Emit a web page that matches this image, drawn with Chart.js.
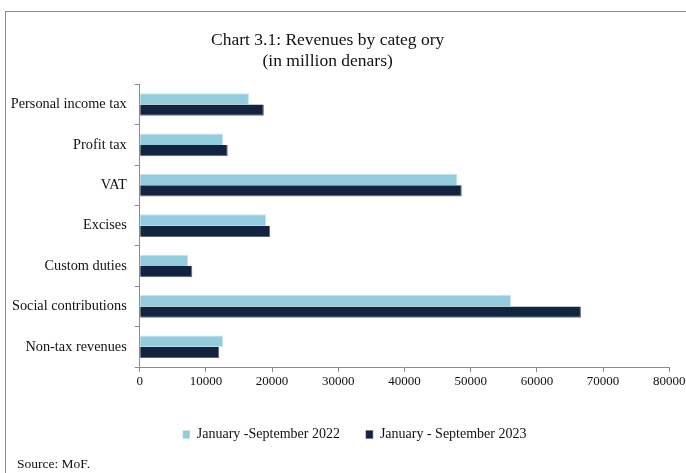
<!DOCTYPE html>
<html>
<head>
<meta charset="utf-8">
<script src="https://cdn.jsdelivr.net/npm/chart.js@4.4.1/dist/chart.umd.min.js"></script>
<style>
html, body { margin: 0; padding: 0; background: #fff; overflow: hidden; }
#wrap { position: relative; width: 686px; height: 473px; }
#frame { position: absolute; left: 5px; top: 11px; width: 700px; height: 480px;
         border-left: 1px solid #8c8c8c; border-top: 1px solid #8c8c8c; }
#source { position: absolute; left: 17px; top: 456px; font: 13.5px "Liberation Serif", serif; color: #111; }
canvas { position: absolute; left: 0; top: 0; }
</style>
</head>
<body>
<div id="wrap">
  <div id="frame"></div>
  <canvas id="chart" width="686" height="473"></canvas>
  <div id="source">Source: MoF.</div>
</div>
<script>
// values, million denars
const categories = ['Personal income tax', 'Profit tax', 'VAT', 'Excises', 'Custom duties', 'Social contributions', 'Non-tax revenues'];
const jan_sep_2022 = [16500, 12600, 48000, 19100, 7300, 56100, 12600];
const jan_sep_2023 = [18750, 13300, 48650, 19700, 7950, 66650, 12000];
const seriesNames = ['January -September 2022', 'January - September 2023'];
const xMax = 80000;
const xStep = 10000;

const serif = '"Liberation Serif", serif';
const axisColor = '#8c8c8c';

// nudge title and legend sideways, the original isn't centred on the canvas
const nudge = {
    id: 'nudge',
    afterLayout(chart) {
        chart.titleBlock.right -= 14;
        chart.legend.left += 40;
    }
};

function createChart(target) {
    const ctx = document.getElementById(target).getContext('2d');
    return new Chart(ctx, {
        type: 'bar',
        data: {
            labels: categories,
            datasets: [
                {
                    label: seriesNames[0],
                    data: jan_sep_2022,
                    backgroundColor: '#93cddd',
                    borderColor: '#c4e4ee',
                    borderWidth: {top: 1, right: 1, bottom: 0, left: 0},
                    borderSkipped: false
                },
                {
                    label: seriesNames[1],
                    data: jan_sep_2023,
                    backgroundColor: '#12243f',
                    borderColor: '#5e6878',
                    borderWidth: {top: 0, right: 1, bottom: 1, left: 0},
                    borderSkipped: false
                }
            ]
        },
        options: {
            indexAxis: 'y',
            responsive: false,
            animation: false,
            categoryPercentage: 0.56,
            barPercentage: 1.0,
            layout: {
                padding: {top: 0, right: 16.7, bottom: 21.5, left: 0}
            },
            scales: {
                x: {
                    min: 0,
                    max: xMax,
                    ticks: {
                        stepSize: xStep,
                        color: '#111',
                        padding: 2,
                        maxRotation: 0,
                        font: {family: serif, size: 13},
                        callback: (value) => String(value)
                    },
                    grid: {drawOnChartArea: false, drawTicks: true, tickLength: 5, color: axisColor},
                    border: {display: true, color: axisColor, width: 1},
                    afterFit(scale) {
                        scale.height = 34.5;
                        scale.paddingLeft = 0;
                        scale.paddingRight = 0;
                    }
                },
                y: {
                    ticks: {
                        color: '#111',
                        padding: 8,
                        font: {family: serif, size: 14.3}
                    },
                    grid: {drawOnChartArea: false, drawTicks: true, tickLength: 5, color: axisColor, offset: true},
                    border: {display: true, color: axisColor, width: 1},
                    afterFit(scale) {
                        scale.width = 139.7;
                        scale.paddingTop = 0;
                        scale.paddingBottom = 0;
                    }
                }
            },
            plugins: {
                title: {
                    display: true,
                    text: ['Chart 3.1: Revenues by categ ory', '(in million denars)'],
                    color: '#111',
                    font: {family: serif, size: 17.5, weight: 'normal', lineHeight: 1.22},
                    padding: {top: 29.4, bottom: 12.2}
                },
                legend: {
                    position: 'bottom',
                    labels: {
                        boxWidth: 7,
                        boxHeight: 8,
                        padding: 26,
                        color: '#111',
                        font: {family: serif, size: 14}
                    }
                },
                tooltip: {enabled: false}
            }
        },
        plugins: [nudge]
    });
}

createChart('chart');
</script>
</body>
</html>
